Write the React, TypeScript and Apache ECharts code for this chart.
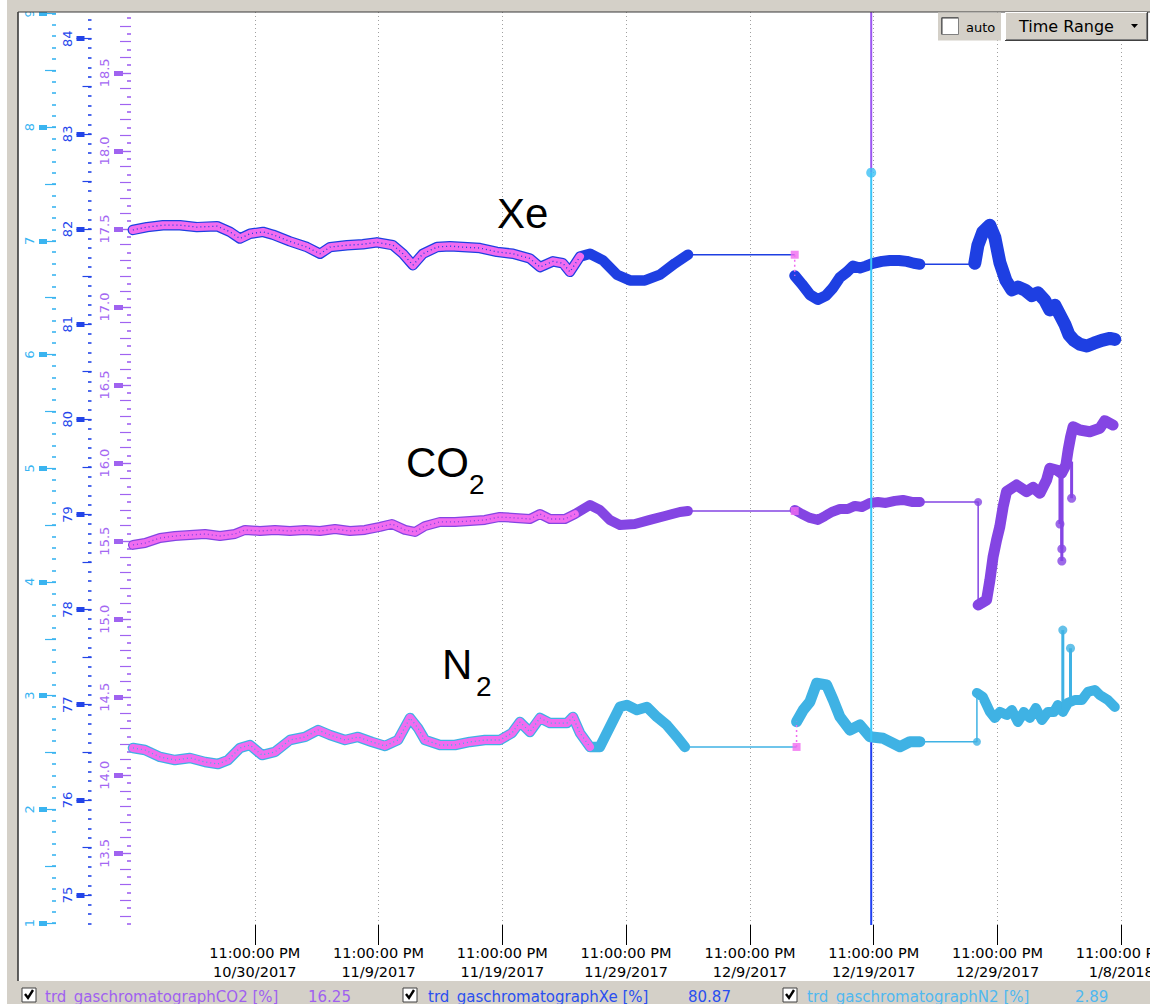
import React, { useEffect, useRef } from 'react';
import * as echarts from 'echarts';

// ---------- x scale: days since 10/30/2017 11:00:00 PM ----------
const X_MIN = -10;
const X_MAX = 72;
const X_LABEL_DAYS = [0, 10, 20, 30, 40, 50, 60, 70];

// ---------- y ranges (one axis per trace) ----------
const N2_MIN = 0.983, N2_MAX = 9.013;
const XE_MIN = 74.685, XE_MAX = 84.281;
const CO2_MIN = 13.041, CO2_MAX = 18.89;

const N2_LABELS = [1, 2, 3, 4, 5, 6, 7, 8, 9];
const XE_LABELS = [75, 76, 77, 78, 79, 80, 81, 82, 83, 84];
const CO2_LABELS = [13.5, 14.0, 14.5, 15.0, 15.5, 16.0, 16.5, 17.0, 17.5, 18.0, 18.5];

const seq = (from: number, to: number, step: number) => {
  const out: number[] = [];
  const n = Math.round((to - from) / step);
  for (let i = 0; i <= n; i++) out.push(+(from + i * step).toFixed(3));
  return out;
};
const N2_HALF_TICKS = seq(1.5, 8.5, 1);
const N2_TENTH_TICKS = seq(1, 9, 0.1);
const XE_HALF_TICKS = seq(75.5, 83.5, 1);
const XE_TENTH_TICKS = seq(74.7, 84.2, 0.1);
const CO2_TENTH_TICKS = seq(13.1, 18.8, 0.1);
const CO2_HALFTENTH_TICKS = seq(13.05, 18.85, 0.1);

// ---------- data [day, value] ----------
const XE_SEG1 = [[-9.85, 81.99], [-8.71, 82.02], [-7.42, 82.04], [-6.04, 82.04], [-4.67, 82.02], [-3.05, 82.03], [-2.0, 81.97], [-1.2, 81.9], [-0.39, 81.95], [0.66, 81.97], [1.47, 81.94], [2.84, 81.87], [4.22, 81.81], [5.27, 81.74], [6.08, 81.81], [7.45, 81.83], [8.74, 81.84], [9.87, 81.86], [11.16, 81.83], [11.97, 81.74], [12.78, 81.62], [13.58, 81.74], [14.72, 81.81], [15.77, 81.82], [16.82, 81.81], [18.19, 81.8], [19.56, 81.76], [20.86, 81.74], [22.23, 81.69], [23.04, 81.6], [24.09, 81.66], [24.89, 81.64], [25.46, 81.55], [26.27, 81.71], [27.08, 81.74], [28.13, 81.67], [29.26, 81.52], [30.31, 81.46], [31.52, 81.46], [32.74, 81.52], [33.95, 81.64], [35.0, 81.73]];
const XE_SEG2 = [[43.62, 81.51], [44.2, 81.42], [44.85, 81.31], [45.49, 81.26], [46.14, 81.3], [46.7, 81.38], [47.27, 81.49], [47.85, 81.55], [48.32, 81.61], [48.89, 81.59], [49.37, 81.61], [49.94, 81.64], [50.66, 81.66], [51.31, 81.67], [52.04, 81.67], [52.68, 81.66], [53.24, 81.64], [53.73, 81.63]];
const XE_SEG3 = [[58.17, 81.64], [58.42, 81.83], [58.82, 81.97], [59.38, 82.04], [59.79, 81.91], [60.19, 81.65], [60.68, 81.46], [61.16, 81.36], [61.65, 81.39], [62.21, 81.36], [62.78, 81.3], [63.26, 81.33], [63.83, 81.25], [64.23, 81.15], [64.64, 81.2], [65.04, 81.1], [65.44, 81.0], [65.77, 80.89], [66.17, 80.83], [66.66, 80.79], [67.22, 80.77], [67.79, 80.8], [68.43, 80.83], [69.08, 80.85], [69.48, 80.84]];

const CO2_SEG1 = [[-9.84, 15.476], [-8.87, 15.488], [-7.66, 15.52], [-6.45, 15.533], [-5.24, 15.54], [-4.02, 15.546], [-2.81, 15.533], [-1.6, 15.546], [-0.79, 15.572], [0.42, 15.565], [1.63, 15.572], [2.84, 15.565], [4.06, 15.572], [5.27, 15.565], [6.48, 15.578], [7.69, 15.565], [8.9, 15.572], [10.11, 15.591], [11.08, 15.61], [12.13, 15.572], [12.94, 15.559], [13.75, 15.597], [14.96, 15.623], [16.17, 15.623], [17.38, 15.629], [18.59, 15.636], [19.8, 15.655], [21.02, 15.649], [22.23, 15.642], [23.04, 15.674], [23.85, 15.642], [25.06, 15.642], [25.87, 15.674], [27.08, 15.732], [27.88, 15.7], [28.69, 15.636], [29.5, 15.604], [30.71, 15.61], [31.92, 15.636], [33.13, 15.661], [34.35, 15.687], [34.99, 15.693]];
const CO2_SEG2 = [[43.62, 15.7], [44.2, 15.674], [44.85, 15.649], [45.49, 15.636], [46.06, 15.661], [46.62, 15.687], [47.27, 15.706], [47.91, 15.706], [48.48, 15.726], [49.05, 15.719], [49.69, 15.745], [50.34, 15.751], [50.98, 15.745], [51.71, 15.758], [52.36, 15.764], [53.08, 15.751], [53.73, 15.751]];
const CO2_SEG3 = [[58.44, 15.091], [59.12, 15.123], [59.39, 15.251], [59.65, 15.401], [59.93, 15.508], [60.19, 15.593], [60.46, 15.721], [60.73, 15.817], [61.54, 15.86], [62.35, 15.817], [62.88, 15.845], [63.43, 15.807], [63.97, 15.892], [64.23, 15.967], [64.77, 15.956], [65.18, 15.935], [65.53, 15.988], [65.71, 16.084], [65.91, 16.169], [66.11, 16.233], [66.65, 16.212], [67.46, 16.201], [68.27, 16.223], [68.67, 16.272], [69.34, 16.244]];
// [day, base, tip]
const CO2_SPIKES = [[65.05, 15.93, 15.61], [65.2, 15.93, 15.45], [65.2, 15.93, 15.373], [65.99, 16.01, 15.775]];

const N2_SEG1 = [[-9.84, 2.54], [-8.87, 2.522], [-7.66, 2.461], [-6.45, 2.434], [-5.24, 2.452], [-4.02, 2.417], [-2.97, 2.399], [-2.16, 2.434], [-1.2, 2.54], [-0.39, 2.566], [0.58, 2.478], [1.63, 2.505], [2.84, 2.61], [4.06, 2.637], [5.11, 2.698], [6.07, 2.654], [7.29, 2.61], [8.34, 2.637], [9.47, 2.593], [10.52, 2.558], [11.57, 2.61], [12.54, 2.804], [13.18, 2.716], [13.75, 2.61], [14.96, 2.566], [16.17, 2.566], [17.38, 2.593], [18.59, 2.61], [19.8, 2.61], [20.78, 2.672], [21.42, 2.768], [22.23, 2.681], [23.04, 2.804], [23.85, 2.759], [25.22, 2.759], [25.7, 2.813], [26.27, 2.672], [27.08, 2.549], [27.88, 2.549], [28.69, 2.725], [29.5, 2.901], [30.06, 2.918], [30.87, 2.874], [31.68, 2.901], [32.49, 2.813], [33.29, 2.742], [34.1, 2.637], [34.75, 2.549]];
const N2_SEG2 = [[43.77, 2.771], [44.31, 2.874], [44.85, 2.947], [45.39, 3.109], [46.2, 3.094], [46.73, 2.962], [47.27, 2.815], [48.08, 2.698], [48.89, 2.742], [49.69, 2.639], [50.77, 2.625], [52.12, 2.551], [52.92, 2.595], [53.73, 2.595]];
const N2_SEG3 = [[58.34, 3.024], [58.82, 2.989], [59.39, 2.857], [59.79, 2.804], [60.19, 2.857], [60.76, 2.83], [61.16, 2.874], [61.65, 2.769], [62.13, 2.857], [62.62, 2.804], [63.1, 2.892], [63.59, 2.786], [64.07, 2.857], [64.56, 2.857], [64.88, 2.918], [65.28, 2.857], [65.69, 2.936], [66.25, 2.962], [66.82, 2.962], [67.3, 3.033], [67.87, 3.05], [68.27, 3.006], [68.92, 2.962], [69.48, 2.901]];
const N2_SPIKES = [[65.28, 2.874, 3.577], [65.9, 2.93, 3.417]];

// archived (pink) overlay ends, in days
const ARCHIVE_END = [26.27, 25.87, 27.08]; // Xe, CO2, N2

// cursor (N2 axis units)
const CURSOR_DAY = 49.8;
const CURSOR_DOT = 7.6;
const CURSOR_SPLIT = 2.59;

const LEGEND_NAMES = ['trd_gaschromatographCO2 [%]', 'trd_gaschromatographXe [%]', 'trd_gaschromatographN2 [%]'];
const LEGEND_VALUES = ['16.25', '80.87', '2.89'];

// ---------- styles ----------
const FONT = 'DejaVu Sans';
const XE_COLOR = '#1e3fe2';
const CO2_COLOR = '#8445e3';
const N2_COLOR = '#3fb2e4';
const PINK = '#f06cf0';
const GRAY = '#d4d0c8';
const CANVAS_W = 1200; // wider than the page so edge labels get cut like the reference

function yAxes(c: any) {
  const base = {
    type: 'value', position: 'left', min: c.min, max: c.max,
    axisLine: { show: false, onZero: false }, splitLine: { show: false }, axisLabel: { show: false },
  };
  return [
    {
      ...base, offset: c.offset,
      axisTick: { show: true, customValues: c.labels, length: c.majorLen, lineStyle: { color: c.color, width: 1.2 } },
      axisLabel: {
        show: true, customValues: c.labels, rotate: 90, margin: c.margin, color: c.text,
        fontFamily: FONT, fontSize: 13, lineHeight: 14, formatter: c.fmt,
      },
    },
    { ...base, offset: c.offset + c.thickOffset, axisTick: { show: true, customValues: c.labels, length: c.thickLen, lineStyle: { color: c.color, width: 5 } } },
    { ...base, offset: c.offset, axisTick: { show: true, customValues: c.mid, length: c.midLen, lineStyle: { color: c.color, width: 1.2 } } },
    { ...base, offset: c.offset, axisTick: { show: true, customValues: c.minor, length: c.minorLen, lineStyle: { color: c.color, width: 1.6 } } },
  ];
}

const fmtDate = (d: number) => {
  const dt = new Date(2017, 9, 30 + Math.round(d));
  return `${dt.getMonth() + 1}/${dt.getDate()}/${dt.getFullYear()}`;
};

function traceSeries(segs: number[][][], yIdx: number, color: string, archiveEnd: number, spikes: number[][], widths: number[]) {
  const out: any[] = [];
  const [s1, s2, s3] = segs;
  const base = { type: 'line', xAxisIndex: 0, yAxisIndex: yIdx, symbol: 'none', silent: true, animation: false };
  segs.forEach((seg, i) => out.push({ ...base, data: seg, z: 3, lineStyle: { color, width: widths[i], cap: 'round', join: 'round' } }));
  const arch = s1.filter((p) => p[0] <= archiveEnd);
  out.push({ ...base, data: arch, z: 4, lineStyle: { color: PINK, width: widths[0] - 2.5, cap: 'round', join: 'round' } });
  out.push({ ...base, data: arch, z: 5, lineStyle: { color, width: 1.3, type: [1, 3] } });
  const l1 = s1[s1.length - 1];
  const l2 = s2[s2.length - 1];
  out.push({ ...base, data: [l1, [s2[0][0], l1[1]]], z: 2, lineStyle: { color, width: 1.5 } });
  out.push({ ...base, data: [[s2[0][0], l1[1]], s2[0]], z: 6, lineStyle: { color: PINK, width: 1.5, type: [2, 3] } });
  out.push({ ...base, data: [l2, [s3[0][0], l2[1]], s3[0]], z: 2, lineStyle: { color, width: 1.5 } });
  out.push({ type: 'scatter', xAxisIndex: 0, yAxisIndex: yIdx, silent: true, z: 6, symbol: 'rect', symbolSize: 8, itemStyle: { color: PINK }, data: [[s2[0][0], l1[1]]] });
  out.push({ type: 'scatter', xAxisIndex: 0, yAxisIndex: yIdx, silent: true, z: 4, symbol: 'circle', symbolSize: 8, itemStyle: { color }, data: [[s3[0][0], l2[1]]] });
  spikes.forEach((sp) => {
    out.push({ ...base, data: [[sp[0], sp[1]], [sp[0], sp[2]]], z: 3, lineStyle: { color, width: 3 } });
  });
  if (spikes.length) {
    out.push({ type: 'scatter', xAxisIndex: 0, yAxisIndex: yIdx, silent: true, z: 4, symbol: 'circle', symbolSize: 9, itemStyle: { color }, data: spikes.map((sp) => [sp[0], sp[2]]) });
  }
  return out;
}

function buildOption() {
  const xBase = { type: 'value', min: X_MIN, max: X_MAX, gridIndex: 0, axisLine: { show: false, onZero: false }, splitLine: { show: false }, axisLabel: { show: false } };
  const legendEls: any[] = [];
  const legendPos = [
    { box: 22, text: 45, val: 308, color: '#a060f0' },
    { box: 403, text: 428, val: 688, color: '#2a4ff0' },
    { box: 783, text: 807, val: 1075, color: '#4fb8f0' },
  ];
  legendPos.forEach((p, i) => {
    legendEls.push({ type: 'rect', shape: { x: p.box, y: 988, width: 14, height: 14 }, style: { fill: '#fff', stroke: '#404040', lineWidth: 1 } });
    legendEls.push({ type: 'polyline', shape: { points: [[p.box + 3, 994], [p.box + 6, 998], [p.box + 11, 990]] }, style: { stroke: '#000', lineWidth: 2.4, fill: 'none' } });
    legendEls.push({ type: 'text', x: p.text, y: 997, style: { text: LEGEND_NAMES[i], fill: p.color, font: `15px "${FONT}"`, verticalAlign: 'middle' } });
    legendEls.push({ type: 'text', x: p.val, y: 997, style: { text: LEGEND_VALUES[i], fill: p.color, font: `15px "${FONT}"`, verticalAlign: 'middle' } });
  });

  const big = (text: string, x: number, y: number, size: number) => ({
    type: 'text', x, y, z: 50, style: { text, fill: '#000', font: `${size}px "Liberation Sans"`, verticalAlign: 'middle' },
  });

  const cursorLine = (from: number, to: number, color: string) => ({
    type: 'line', xAxisIndex: 0, yAxisIndex: 0, symbol: 'none', silent: true, z: 8,
    data: [[CURSOR_DAY, from], [CURSOR_DAY, to]], lineStyle: { color, width: 2 },
  });

  return {
    animation: false,
    backgroundColor: '#ffffff',
    grid: [{ left: 131, top: 12, width: 1015, height: 913, outerBoundsMode: 'none', containLabel: false }],
    xAxis: [
      {
        ...xBase, interval: 10,
        axisTick: { show: true, customValues: X_LABEL_DAYS, length: 20, lineStyle: { color: '#000', width: 1 } },
        axisLabel: {
          show: true, customValues: X_LABEL_DAYS, margin: 18, color: '#000', fontFamily: FONT, fontSize: 14.5, lineHeight: 19,
          formatter: (v: number) => (v < 0 || v > 70 ? '' : `11:00:00 PM\n${fmtDate(v)}`),
        },
        splitLine: { show: true, lineStyle: { color: '#a0a0a0', width: 1, type: [1, 3] } },
      },
      { ...xBase, offset: 10, axisTick: { show: true, customValues: X_LABEL_DAYS, length: 10, lineStyle: { color: '#000', width: 4 } } },
      { ...xBase, interval: 2, axisTick: { show: true, length: 13, lineStyle: { color: '#000', width: 1 } } },
      { ...xBase, interval: 0.5, axisTick: { show: true, length: 6, lineStyle: { color: '#000', width: 1 } } },
    ],
    yAxis: [
      ...yAxes({ min: N2_MIN, max: N2_MAX, offset: 75, labels: N2_LABELS, mid: N2_HALF_TICKS, minor: N2_TENTH_TICKS, majorLen: 17, thickOffset: 9, thickLen: 8, midLen: 11, minorLen: 4, margin: 20, color: '#3ab4f0', text: '#38b4f2', fmt: (v: number) => String(v) }),
      ...yAxes({ min: XE_MIN, max: XE_MAX, offset: 39.5, labels: XE_LABELS, mid: XE_HALF_TICKS, minor: XE_TENTH_TICKS, majorLen: 15, thickOffset: 7, thickLen: 8, midLen: 9, minorLen: 3.5, margin: 17.5, color: '#2244e8', text: '#2447ec', fmt: (v: number) => String(v) }),
      ...yAxes({ min: CO2_MIN, max: CO2_MAX, offset: 0, labels: CO2_LABELS, mid: CO2_TENTH_TICKS, minor: CO2_HALFTENTH_TICKS, majorLen: 17, thickOffset: 8, thickLen: 9, midLen: 11, minorLen: 4, margin: 20, color: '#a063f0', text: '#a367f2', fmt: (v: number) => v.toFixed(1) }),
    ],
    series: [
      ...traceSeries([XE_SEG1, XE_SEG2, XE_SEG3], 4, XE_COLOR, ARCHIVE_END[0], [], [10.5, 11, 13]),
      ...traceSeries([CO2_SEG1, CO2_SEG2, CO2_SEG3], 8, CO2_COLOR, ARCHIVE_END[1], CO2_SPIKES, [10, 10, 11]),
      ...traceSeries([N2_SEG1, N2_SEG2, N2_SEG3], 0, N2_COLOR, ARCHIVE_END[2], N2_SPIKES, [10.5, 11, 10]),
      cursorLine(N2_MAX, CURSOR_DOT, '#9b55f0'),
      cursorLine(CURSOR_DOT, CURSOR_SPLIT, '#38c4f8'),
      cursorLine(CURSOR_SPLIT, N2_MIN, '#1f3ff0'),
      { type: 'scatter', xAxisIndex: 0, yAxisIndex: 0, silent: true, z: 9, symbolSize: 10, itemStyle: { color: '#3cc0f5' }, data: [[CURSOR_DAY, CURSOR_DOT]] },
    ],
    graphic: [
      { type: 'rect', shape: { x: 7, y: 0, width: CANVAS_W, height: 12 }, style: { fill: GRAY }, z: 20 },
      { type: 'rect', shape: { x: 7, y: 0, width: 11, height: 1004 }, style: { fill: GRAY }, z: 20 },
      { type: 'rect', shape: { x: 7, y: 981, width: CANVAS_W, height: 23 }, style: { fill: GRAY }, z: 20 },
      { type: 'line', shape: { x1: 18, y1: 12, x2: 18, y2: 981 }, style: { stroke: '#3a3a3a', lineWidth: 1.6 }, z: 21 },
      { type: 'line', shape: { x1: 18, y1: 12, x2: CANVAS_W, y2: 12 }, style: { stroke: '#3a3a3a', lineWidth: 1.2 }, z: 21 },
      // auto checkbox
      { type: 'rect', shape: { x: 938, y: 12.5, width: 63, height: 28 }, style: { fill: GRAY }, z: 22 },
      { type: 'rect', shape: { x: 941.5, y: 17.5, width: 17, height: 17 }, style: { fill: '#fff', stroke: '#808080', lineWidth: 1 }, z: 23 },
      { type: 'polyline', shape: { points: [[942, 34], [942, 18], [958, 18]] }, style: { stroke: '#404040', lineWidth: 1, fill: 'none' }, z: 24 },
      { type: 'text', x: 966, y: 27, z: 24, style: { text: 'auto', fill: '#000', font: `13px "${FONT}"`, verticalAlign: 'middle' } },
      // Time Range button
      { type: 'rect', shape: { x: 1005, y: 12, width: 143, height: 29 }, style: { fill: GRAY }, z: 22 },
      { type: 'polyline', shape: { points: [[1005.5, 40.5], [1005.5, 12.5], [1147.5, 12.5]] }, style: { stroke: '#ffffff', lineWidth: 1, fill: 'none' }, z: 23 },
      { type: 'polyline', shape: { points: [[1005, 40.5], [1147.5, 40.5], [1147.5, 12]] }, style: { stroke: '#404040', lineWidth: 1.2, fill: 'none' }, z: 23 },
      { type: 'polyline', shape: { points: [[1006, 39.5], [1146.5, 39.5], [1146.5, 13]] }, style: { stroke: '#808080', lineWidth: 1, fill: 'none' }, z: 23 },
      { type: 'text', x: 1019, y: 26.5, z: 24, style: { text: 'Time Range', fill: '#000', font: `16px "${FONT}"`, verticalAlign: 'middle' } },
      { type: 'polygon', shape: { points: [[1131, 24], [1138, 24], [1134.5, 28]] }, style: { fill: '#000' }, z: 24 },
      // legend bar
      ...legendEls.map((e) => ({ ...e, z: 25 })),
      // annotations
      big('Xe', 497, 213, 42),
      big('CO', 406, 462, 42),
      big('2', 469, 484, 28),
      big('N', 442, 664, 42),
      big('2', 476, 686, 28),
    ],
  };
}

export default function App() {
  const ref = useRef<HTMLDivElement>(null);
  useEffect(() => {
    document.body.style.margin = '0';
    const chart = echarts.init(ref.current as HTMLDivElement, null, { renderer: 'svg' });
    chart.setOption(buildOption() as any);
    return () => chart.dispose();
  }, []);
  return (
    <div style={{ position: 'absolute', left: 0, top: 0, width: 1150, height: 1004, overflow: 'hidden', background: '#fff' }}>
      <div ref={ref} style={{ width: CANVAS_W, height: 1004 }} />
    </div>
  );
}
